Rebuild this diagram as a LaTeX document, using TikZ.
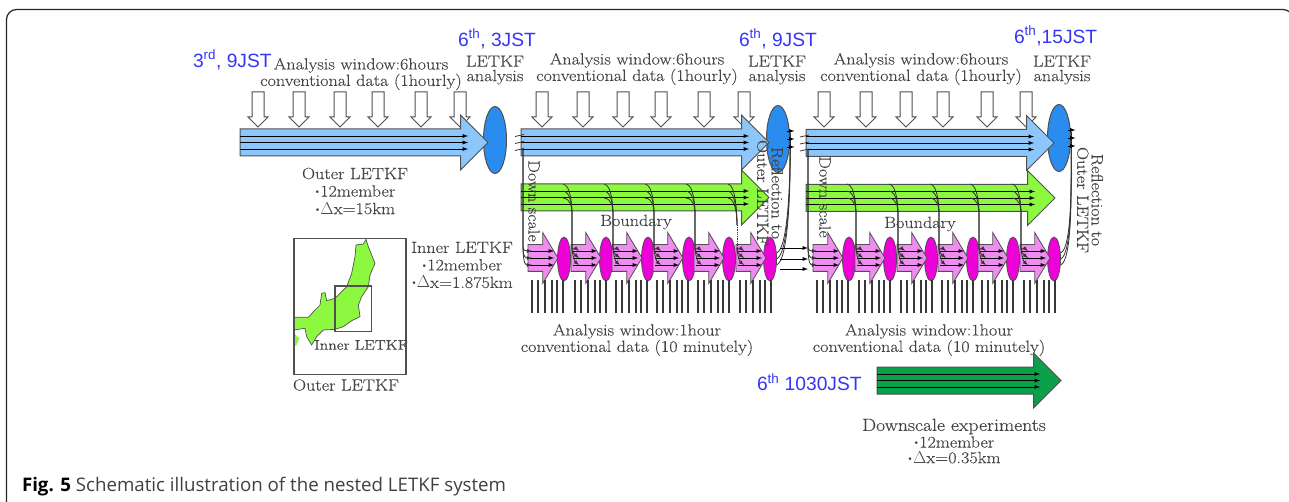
\documentclass[tikz,border=0pt]{standalone}
\usepackage{fontspec}
\usepackage{amsmath}
\usepackage{tikz}
\usepackage{xcolor}
\usetikzlibrary{arrows}
\usetikzlibrary{shapes}
\usetikzlibrary{calc}
\usetikzlibrary{positioning}
\newfontfamily\bluefont{Liberation Sans}
\newfontfamily\capfont{Open Sans}
\newfontfamily\wordfont[FakeStretch=1.12,FakeBold=0.2]{Latin Modern Roman}
\definecolor{outerblue}{HTML}{8CC6FA}
\definecolor{outerdark}{HTML}{2A8CEE}
\definecolor{bndgreen}{HTML}{8CF940}
\definecolor{innerpink}{HTML}{EE8CF0}
\definecolor{innermag}{HTML}{EE00D8}
\definecolor{dsgreen}{HTML}{0BA04A}
\definecolor{labelblue}{HTML}{3535F5}
\definecolor{edgegray}{HTML}{505050}
\definecolor{textgray}{HTML}{454545}

\begin{document}
\begin{tikzpicture}[x=1pt, y=-1pt, >=latex,
    every node/.style={inner sep=0pt, outer sep=0pt},
    bigarrow/.style={draw=edgegray, line width=1pt, single arrow, anchor=tail, inner ysep=13pt,
      minimum height=#1, single arrow head extend=14pt},
    obsarrow/.style={draw=edgegray, line width=1pt, fill=white, single arrow, anchor=tail,
      shape border rotate=270, inner xsep=5.5pt, inner ysep=5.5pt, minimum height=35pt,
      single arrow head extend=4pt},
    smallarrow/.style={draw=edgegray, line width=.8pt, fill=innerpink, single arrow, anchor=tail,
      inner ysep=13pt, minimum height=30pt, single arrow head extend=12pt,
      single arrow tip angle=118},
    bigell/.style={draw=edgegray, line width=1pt, fill=outerdark, ellipse,
      minimum width=23pt, minimum height=67pt},
    smallell/.style={draw=edgegray, line width=.8pt, fill=innermag, ellipse,
      minimum width=13pt, minimum height=44pt},
    flow/.style={->, black, line width=.9pt},
    link/.style={black!80, line width=.8pt},
    obsbar/.style={edgegray!70!black, line width=2.6pt},
    txt/.style={text=textgray, align=center, font=\wordfont\fontsize{16.2}{14.5}\selectfont},
    stamp/.style={text=labelblue, font=\bluefont\fontsize{19.2}{19.2}\selectfont}]

  \useasboundingbox (0,0) rectangle (1289,502);
  % frame
  \coordinate (fa) at (6.5,510);
  \coordinate (fb) at (1293,30);
  \draw[black!85, line width=1.2pt, rounded corners=10pt] (fa) -- (6.5,9.5) -- (1293,9.5) -- (fb);

  % conventional data
  \foreach \i/\x in {1/258,2/299,3/340,4/378,5/421,6/460,
                     7/542,8/583,9/623,10/661,11/704,12/744,
                     13/824,14/866,15/906,16/943,17/987,18/1026} {
    \node[obsarrow] (obs\i) at (\x,92) {};
  }

  % analysis ellipses
  \node[bigell] (ea) at (495,140) {};
  \node[bigell] (eb) at (778,139) {};
  \node[bigell] (ec) at (1059,138) {};

  % outer and boundary runs
  \node[bigarrow=248pt, fill=outerblue] (oa) at (240,142.5) {};
  \node[bigarrow=248pt, fill=outerblue] (ob) at (521,142.5) {};
  \node[bigarrow=248pt, fill=outerblue] (oc) at (806,143) {};
  \node[bigarrow=248pt, fill=bndgreen] (ga) at (521,197.5) {};
  \node[bigarrow=249pt, fill=bndgreen] (gb) at (806,198) {};
  \node[bigarrow=184pt, fill=dsgreen] (ds) at (877,380.5) {};

  % inner cycles
  \foreach \i/\x/\e in {1/528/564,2/571/606,3/612/648,4/653/689,5/694/729,6/736/770,
                        7/813/849,8/855/890,9/897/931,10/938/973,11/978/1013,12/1020/1054} {
    \node[smallell] (em\i) at (\e,259) {};
    \node[smallarrow] (p\i) at (\x,258) {};
    \foreach \o in {4,10,17,24,29,35} {
      \draw[obsbar] ($(p\i.tail)+(\o,22)$) -- ($(p\i.tail)+(\o,55)$);
    }
  }

  % lines in the arrows
  \foreach \a/\b in {oa/20,ob/20,oc/20,ga/20,gb/20,ds/21} {
    \foreach \d in {-6.5,0,6.5} {
      \draw[flow] ($(\a.tail)+(0,\d)$) -- ($(\a.tip)+(-\b,\d)$);
    }
  }
  \foreach \i in {1,...,12} {
    \foreach \d in {-7,0,7} {
      \draw[flow] ($(p\i.tail)+(2,\d)$) -- ($(p\i.tip)+(-4,\d)$);
    }
  }

  % down scale
  \foreach \a/\b in {ob/p1,oc/p7} {
    \foreach \d in {-7,0,7} {
      \draw[link, ->] ($(\a.tail)+(2,6.5)$) -- ($(\b.tail)+(-5,-12)$)
        .. controls +(0,{12+\d}) and +(-6,0) .. ($(\b.tail)+(4,\d)$);
    }
  }

  % boundary
  \foreach \g/\i in {ga/2,ga/3,ga/4,ga/5,gb/8,gb/9,gb/10,gb/11,gb/12} {
    \foreach \d in {-7,0,7} {
      \draw[link, ->] ($(p\i.tail)+(-8,{-67+\d})$) .. controls +(8,1) and +(0,-8) ..
        ($(p\i.tail)+(1,-43)$) -- ($(p\i.tail)+(1,-10)$)
        .. controls +(0,4) and +(-5,-4) .. ($(p\i.tail)+(8,\d)$);
    }
  }
  \foreach \d in {-7,0,7} {
    \draw[link] ($(p6.tail)+(-8,{-67+\d})$) .. controls +(8,1) and +(0,-8) .. ($(p6.tail)+(1,-33)$);
    \draw[link, densely dotted] ($(p6.tail)+(1,-33)$) -- ($(p6.tail)+(1,-10)$);
    \draw[link, ->] ($(p6.tail)+(1,-10)$) .. controls +(0,4) and +(-5,-4) .. ($(p6.tail)+(8,\d)$);
  }

  % reflection
  \foreach \m/\e in {em6/eb,em12/ec} {
    \foreach \d in {-6,0,6} {
      \draw[link] ($(\m.east)+(0,\d)$) .. controls +(12,-4) and +(0,30) .. ($(\e.south east)+(4,{\d-10})$)
        -- ($(\e.east)+(1,\d)$);
    }
  }
  \foreach \d in {-11,0,10} {
    \coordinate (ka) at ($(p6.tail)+(44,{\d+1})$);
    \coordinate (kb) at ($(p7.tail)+(-5,{\d+1})$);
    \draw[flow] (ka) -- (kb);
  }

  % ticks at the window starts
  \foreach \a/\e in {ob/ea,oc/eb} {
    \foreach \d in {-7,0,7} {
      \draw[link] ($(\a.tail)+(-6,{\d+1})$) -- ($(\a.tail)+(3,{\d-1})$);
    }
  }
  \foreach \e in {eb,ec} {
    \foreach \d in {-8,0,8} {
      \draw[flow] ($(\e.east)+(-3,\d)$) -- ($(\e.east)+(5,\d)$);
    }
  }

  % domains
  \begin{scope}[shift={(280,230)}, scale=1/3]
    \fill[bndgreen] (42,262) -- (85,262) -- (105,240) -- (120,225) -- (125,190) -- (135,188)
      -- (140,212) -- (165,205) -- (200,170) -- (215,130) -- (225,80) -- (228,45) -- (250,42)
      -- (258,28) -- (265,50) -- (285,100) -- (270,135) -- (265,170) -- (245,200) -- (235,225)
      -- (240,260) -- (215,272) -- (190,290) -- (165,298) -- (130,300) -- (110,320) -- (95,345)
      -- (80,320) -- (75,295) -- (42,300) -- cycle;
    \fill[bndgreen] (42,310) -- (58,325) -- (50,345) -- (42,350) -- cycle;
    \draw[edgegray, line width=.7pt] (42,262) -- (85,262) -- (105,240) -- (120,225) -- (125,190) -- (135,188)
      -- (140,212) -- (165,205) -- (200,170) -- (215,130) -- (225,80) -- (228,45) -- (250,42)
      -- (258,28) -- (265,50) -- (285,100) -- (270,135) -- (265,170) -- (245,200) -- (235,225)
      -- (240,260) -- (215,272) -- (190,290) -- (165,298) -- (130,300) -- (110,320) -- (95,345)
      -- (80,320) -- (75,295) -- (42,300);
    \draw[edgegray, line width=1.4pt] (42,25) rectangle (378,433);
    \draw[edgegray, line width=1.4pt] (165,168) rectangle (275,305);
  \end{scope}

  % labels
  \node[stamp, anchor=west] (ta) at (193,60) {3\textsuperscript{rd}, 9JST};
  \node[stamp, anchor=west] (tb) at (458,39) {6\textsuperscript{th}, 3JST};
  \node[stamp, anchor=west] (tc) at (739,39) {6\textsuperscript{th}, 9JST};
  \node[stamp, anchor=west] (td) at (1014,36) {6\textsuperscript{th},15JST};
  \node[stamp, anchor=west] (te) at (757,382) {6\textsuperscript{th} 1030JST};

  \node[txt] (wa) at (361,74) {Analysis window:6hours\\conventional data (1hourly)};
  \node[txt] (wb) at (637,69) {Analysis window:6hours\\conventional data (1hourly)};
  \node[txt] (wc) at (921,69) {Analysis window:6hours\\conventional data (1hourly)};
  \node[txt] (la) at (495,70) {LETKF\\analysis};
  \node[txt] (lb) at (777,70) {LETKF\\analysis};
  \node[txt] (lc) at (1062,70) {LETKF\\analysis};

  \node[txt] (oname) at (355,191) {Outer LETKF\\[3pt]$\boldsymbol{\cdot}$12member\\[3pt]$\boldsymbol{\cdot}\Delta$x=15km};
  \node[txt] (iname) at (462,265) {Inner LETKF\\[3pt]$\boldsymbol{\cdot}$12member\\[3pt]$\boldsymbol{\cdot}\Delta$x=1.875km};
  \node[txt] (dname) at (954,441) {{\fontsize{17.6}{14.5}\selectfont Downscale experiments}\\[1pt]$\boldsymbol{\cdot}$12member\\[1pt]$\boldsymbol{\cdot}\Delta$x=0.35km};
  \node[txt, font=\wordfont\fontsize{14}{14}\selectfont] (minner) at (361,345) {Inner LETKF};
  \node[txt] (mouter) at (346,385) {Outer LETKF};

  \node[txt] (ha) at (637,340) {Analysis window:1hour\\conventional data (10 minutely)};
  \node[txt] (hb) at (929,340) {Analysis window:1hour\\conventional data (10 minutely)};
  \node[txt] (ba) at (636,222) {Boundary};
  \node[txt] (bb) at (920,224) {Boundary};
  \node[txt, rotate=-90] (da) at (534,201) {Down scale};
  \node[txt, rotate=-90] (db) at (825,197) {Down scale};
  \node[txt, rotate=-90] (ra) at (770,193) {Reflection to\\Outer LETKF};
  \node[txt, rotate=-90] (rb) at (1090,200) {Reflection to\\Outer LETKF};

  \node[anchor=west, font=\capfont\fontsize{18.7}{18.7}\selectfont, text=black!75] (cap) at (22,487)
    {\textcolor{black}{\textbf{Fig. 5}} Schematic illustration of the nested LETKF system};
\end{tikzpicture}
\end{document}
